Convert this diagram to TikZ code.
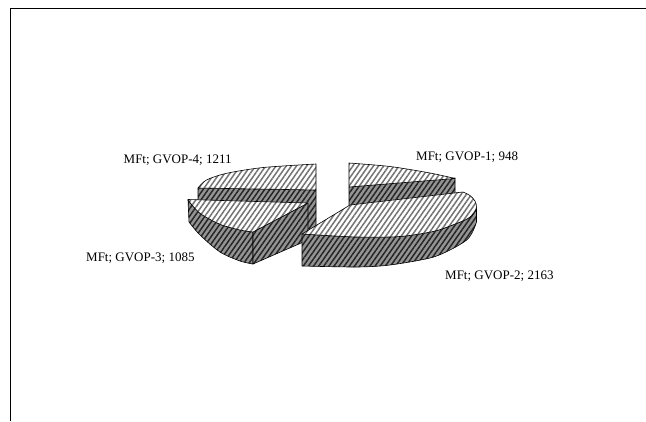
\documentclass[tikz,border=0pt]{standalone}
\usepackage{fontspec}
\setmainfont{Liberation Serif}
\usetikzlibrary{patterns.meta}
\begin{document}
\begin{tikzpicture}[x=1pt,y=-1pt,
  topface/.style={draw=black, line width=0.6pt, line join=round, preaction={fill=white},
    pattern={Lines[angle=55,distance=4.2pt,line width=1.5pt]}, pattern color=black!55},
  sideface/.style={draw=black, line width=0.6pt, line join=round, preaction={fill=black!42},
    pattern={Lines[angle=55,distance=4.2pt,line width=1.5pt]}, pattern color=black!85},
  lbl/.style={anchor=base west, inner sep=0pt, font=\fontsize{13}{15}\selectfont}]
\useasboundingbox (0,0) rectangle (646,421);
\fill[white] (0,0) rectangle (646,421);
% frame (left and top edges)
\coordinate (fbl) at (10.5,421);
\coordinate (ftl) at (10.5,8.5);
\coordinate (ftr) at (646,8.5);
\draw[line width=1.3pt] (fbl) -- (ftl) -- (ftr);

% ---- slice 4 (back left)
\path[sideface] (198,188) -- (316,190) -- (316,230) -- (198,212) -- cycle;
\path[topface] (316,190) -- (198,188)
  -- plot[smooth] coordinates {(198,188) (206.5,180) (226.7,173.3) (263.3,167.5) (316,164)} -- cycle;

% ---- slice 1 (back right)
\path[sideface] (349,187) -- (455,178) -- (455,212) -- (349,221) -- cycle;
\path[topface] (349,187) -- (349,163)
  -- plot[smooth] coordinates {(349,163) (390,166.5) (430,173) (455,178.5)} -- cycle;

% ---- slice 3 (front left)
\path[sideface] plot[smooth] coordinates {(188,200) (200,213.3) (220,224.3) (240,230) (253,232)}
  -- (253,264)
  -- plot[smooth] coordinates {(253,264) (240,261) (220,252) (200,235) (189,222)} -- cycle;
\path[sideface] (253,232) -- (308,203) -- (308,240) -- (253,264) -- cycle;
\path[topface] (308,203) -- (188,199.5)
  -- plot[smooth] coordinates {(188,200) (200,213.3) (220,224.3) (240,230) (253,232)} -- cycle;

% ---- slice 2 (front right)
\path[sideface] plot[smooth] coordinates {(302,234) (357,237) (400,236.5) (433,231.5) (450,226) (467,219) (474,213) (476.5,207)}
  -- (476.5,222)
  -- plot[smooth] coordinates {(476.5,222) (473,231) (466.7,240) (450,250) (430,258) (390,265) (357,267) (302,266)} -- cycle;
\path[topface] (302,234) -- (350,205) -- (463,192)
  -- plot[smooth] coordinates {(463,192) (470,195.5) (475,201) (476.5,207) (474,213) (467,219) (450,226) (433,231.5) (400,236.5) (357,237) (302,234)} -- cycle;

% ---- labels
\node[lbl] (l1) at (416,160.5) {MFt; GVOP-1; 948};
\node[lbl] (l2) at (445,279) {MFt; GVOP-2; 2163};
\node[lbl] (l3) at (86,261) {MFt; GVOP-3; 1085};
\node[lbl] (l4) at (123.5,163) {MFt; GVOP-4; 1211};
\end{tikzpicture}
\end{document}
